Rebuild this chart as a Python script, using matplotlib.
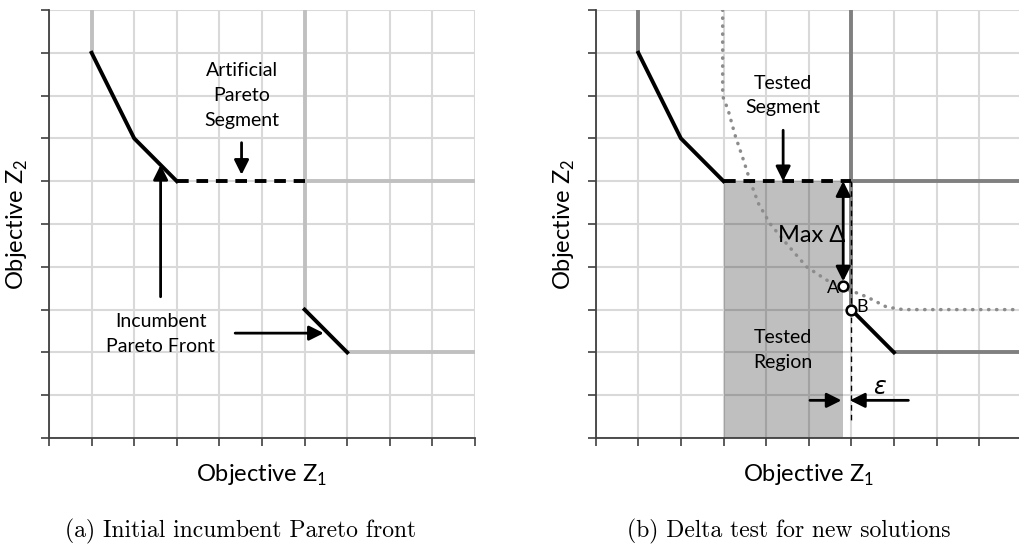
import matplotlib
matplotlib.use('Agg')
import matplotlib.pyplot as plt

plt.rcParams['font.family'] = ['Lato', 'DejaVu Sans']
plt.rcParams['mathtext.fontset'] = 'custom'
plt.rcParams['mathtext.rm'] = 'Lato'

# incumbent front (black solid pieces)
front1_x = [1, 2, 3]
front1_y = [9, 7, 6]
front2_x = [6, 7]
front2_y = [3, 2]
# artificial / tested segment (dashed)
seg_x = [3, 6]
seg_y = [6, 6]
# dominance boundaries (gray)
bound1_x = [1, 1]
bound1_y = [10, 9]
bound2_x = [6, 6, 10]
bound2_y = [10, 6, 6]
bound3_x = [6, 6]
bound3_y = [6, 3]
bound4_x = [7, 10]
bound4_y = [2, 2]
# new solutions curve (dotted)
curve_x = [2.98, 2.98, 3.11, 3.27, 3.47, 3.62, 3.82, 4.09, 4.48, 4.95, 5.42, 5.97, 6.36, 6.83, 7.22, 10]
curve_y = [10, 7.99, 7.66, 7.08, 6.49, 6.02, 5.48, 5.01, 4.54, 4.0, 3.69, 3.45, 3.30, 3.06, 3.0, 3.0]
# tested region
region_x = [3, 5.81]
region_top = 6
pt_a = (5.81, 3.55)
pt_b = (6.0, 3.0)
eps = 0.19

fig = plt.figure(figsize=(10.2, 5.49), dpi=100)
ax1 = fig.add_axes([49 / 1020, 111 / 549, 426 / 1020, 428 / 549])
ax2 = fig.add_axes([595.7 / 1020, 111 / 549, 426 / 1020, 428 / 549])


def base(ax):
    ax.set_xlim(0, 10)
    ax.set_ylim(0, 10)
    ax.set_xticks(range(11))
    ax.set_yticks(range(11))
    ax.set_xticklabels([])
    ax.set_yticklabels([])
    ax.grid(True, color='#d9d9d9', lw=1.5, zorder=0)
    ax.set_axisbelow(True)
    for s in ['top', 'right']:
        ax.spines[s].set_visible(False)
    for s in ['left', 'bottom']:
        ax.spines[s].set_color('#404040')
        ax.spines[s].set_linewidth(1.3)
    ax.tick_params(length=6, width=1.2, color='#404040', direction='out')
    ax.set_xlabel('Objective Z$_\\mathregular{1}$', fontsize=17, labelpad=8)
    ax.set_ylabel('Objective Z$_\\mathregular{2}$', fontsize=17, labelpad=4)


arrow = dict(arrowstyle='-|>', mutation_scale=22, lw=2, color='black', shrinkA=0, shrinkB=0)
txt = dict(ha='center', va='center', fontsize=14, linespacing=1.55)

# (a)
base(ax1)
light = '#c0c0c0'
for bx, by in [(bound1_x, bound1_y), (bound2_x, bound2_y), (bound3_x, bound3_y), (bound4_x, bound4_y)]:
    ax1.plot(bx, by, color=light, lw=2.8, zorder=2, solid_capstyle='butt')
ax1.plot(front1_x, front1_y, color='black', lw=2.8, zorder=3)
ax1.plot(front2_x, front2_y, color='black', lw=2.8, zorder=3)
ax1.plot(seg_x, seg_y, color='black', lw=2.8, ls=(0, (3, 2)), zorder=3)
ax1.text(4.52, 8.0, 'Artificial\nPareto\nSegment', **txt)
ax1.annotate('', xy=(4.52, 6.15), xytext=(4.52, 6.9), arrowprops=arrow)
ax1.annotate('', xy=(2.62, 6.38), xytext=(2.62, 3.3), arrowprops=arrow)
ax1.text(2.62, 2.43, 'Incumbent\nPareto Front', **txt)
ax1.annotate('', xy=(6.45, 2.45), xytext=(4.37, 2.45), arrowprops=arrow)

# (b)
base(ax2)
dark = '#808080'
ax2.fill_between(region_x, 0, region_top, color='black', alpha=0.25, lw=0, zorder=1)
for bx, by in [(bound1_x, bound1_y), (bound2_x, bound2_y), (bound3_x, bound3_y), (bound4_x, bound4_y)]:
    ax2.plot(bx, by, color=dark, lw=2.8, zorder=2, solid_capstyle='butt')
ax2.plot(curve_x, curve_y, color='#8c8c8c', lw=2.5, ls=(0, (0.1, 2.2)), dash_capstyle='round', zorder=2)
ax2.plot([6, 6], [6, 0.38], color='black', lw=1, ls=(0, (4, 3)), zorder=3)
ax2.plot(front1_x, front1_y, color='black', lw=2.8, zorder=3)
ax2.plot(front2_x, front2_y, color='black', lw=2.8, zorder=3)
ax2.plot(seg_x, seg_y, color='black', lw=2.8, ls=(0, (3, 2)), zorder=3)
ax2.annotate('', xy=(pt_a[0], 3.66), xytext=(pt_a[0], 6.0),
             arrowprops=dict(arrowstyle='<|-|>', mutation_scale=22, lw=2, color='black', shrinkA=0, shrinkB=0))
ax2.plot(*pt_a, 'o', ms=7, mfc='white', mec='black', mew=1.8, zorder=5)
ax2.plot(*pt_b, 'o', ms=7, mfc='white', mec='black', mew=1.8, zorder=5)
ax2.text(pt_a[0] - 0.1, pt_a[1] - 0.05, 'A', ha='right', va='center', fontsize=13)
ax2.text(pt_b[0] + 0.12, pt_b[1] + 0.05, 'B', ha='left', va='center', fontsize=13)
ax2.text(5.07, 4.74, 'Max \u0394', ha='center', va='center', fontsize=17)
ax2.text(4.4, 8.0, 'Tested\nSegment', **txt)
ax2.annotate('', xy=(4.4, 6.0), xytext=(4.4, 7.19), arrowprops=arrow)
ax2.text(4.4, 2.05, 'Tested\nRegion', **txt)
ax2.annotate('', xy=(pt_b[0] - eps - 0.04, 0.88), xytext=(5.03, 0.88), arrowprops=arrow)
ax2.annotate('', xy=(pt_b[0] - 0.03, 0.88), xytext=(7.34, 0.88), arrowprops=arrow)
ax2.text(6.67, 1.19, '$\\epsilon$', ha='center', va='center', fontsize=17, family='DejaVu Serif', style='italic')

fig.text(241 / 1020, 1 - 531 / 549, '(a) Initial incumbent Pareto front', ha='center', va='center',
         fontsize=17, family='cmr10')
fig.text(789 / 1020, 1 - 531 / 549, '(b) Delta test for new solutions', ha='center', va='center',
         fontsize=17, family='cmr10')

fig.savefig('out.png', dpi=100)
